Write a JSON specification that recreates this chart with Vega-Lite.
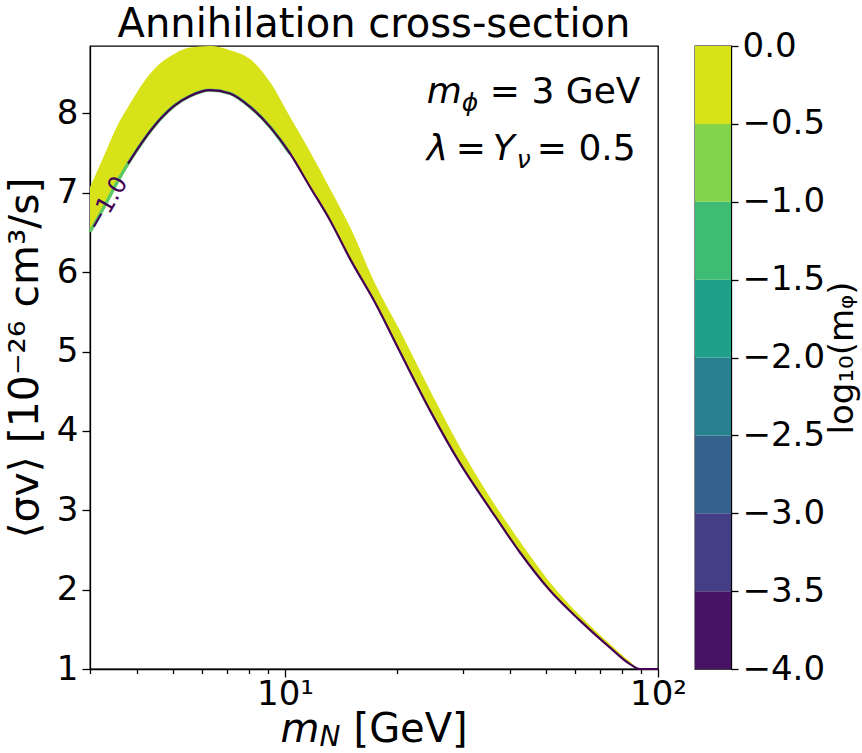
{
  "$schema": "https://vega.github.io/schema/vega-lite/v6.json",
  "background": "white",
  "padding": {"left": 3, "right": 0, "top": 4, "bottom": 0},
  "spacing": 37,
  "bounds": "flush",
  "config": {
    "font": "DejaVu Sans",
    "view": {"stroke": "black", "strokeWidth": 1.3},
    "axis": {"domainColor": "black", "domainWidth": 1.3, "tickColor": "black", "tickWidth": 1.3, "labelColor": "black", "titleColor": "black", "labelFont": "DejaVu Sans", "titleFont": "DejaVu Sans", "titleFontWeight": "normal", "grid": false},
    "title": {"font": "DejaVu Sans", "fontWeight": "normal", "color": "black"}
  },
  "hconcat": [
    {
      "width": 568,
      "height": 623,
      "title": {"text": "Annihilation cross-section", "fontSize": 40, "offset": 1, "anchor": "middle"},
      "data": {"values": [
        {"mN": 3.000, "lo": 6.507, "hi": 7.071},
        {"mN": 3.291, "lo": 6.844, "hi": 7.497},
        {"mN": 3.567, "lo": 7.153, "hi": 7.865},
        {"mN": 3.794, "lo": 7.367, "hi": 8.080},
        {"mN": 4.214, "lo": 7.689, "hi": 8.420},
        {"mN": 4.623, "lo": 7.926, "hi": 8.629},
        {"mN": 5.072, "lo": 8.106, "hi": 8.757},
        {"mN": 5.565, "lo": 8.221, "hi": 8.830},
        {"mN": 6.295, "lo": 8.294, "hi": 8.849},
        {"mN": 7.119, "lo": 8.252, "hi": 8.798},
        {"mN": 8.058, "lo": 8.083, "hi": 8.685},
        {"mN": 9.116, "lo": 7.831, "hi": 8.395},
        {"mN": 10.31, "lo": 7.496, "hi": 7.957},
        {"mN": 11.67, "lo": 7.074, "hi": 7.516},
        {"mN": 13.20, "lo": 6.655, "hi": 7.052},
        {"mN": 14.94, "lo": 6.168, "hi": 6.570},
        {"mN": 17.43, "lo": 5.618, "hi": 5.858},
        {"mN": 20.34, "lo": 4.995, "hi": 5.261},
        {"mN": 24.47, "lo": 4.259, "hi": 4.512},
        {"mN": 29.46, "lo": 3.591, "hi": 3.794},
        {"mN": 35.45, "lo": 3.019, "hi": 3.165},
        {"mN": 42.66, "lo": 2.468, "hi": 2.605},
        {"mN": 51.34, "lo": 1.989, "hi": 2.091},
        {"mN": 61.80, "lo": 1.610, "hi": 1.673},
        {"mN": 74.36, "lo": 1.270, "hi": 1.314},
        {"mN": 84.12, "lo": 1.062, "hi": 1.093},
        {"mN": 89.45, "lo": 1.000, "hi": 1.000},
        {"mN": 100, "lo": 1.000, "hi": 1.000}
      ]},
      "layer": [
        {
          "mark": {"type": "area", "color": "#d8e219", "opacity": 1, "interpolate": "monotone"},
          "encoding": {
            "x": {"field": "mN", "type": "quantitative",
              "scale": {"type": "log", "domain": [3, 100], "nice": false},
              "axis": {"values": [3, 4, 5, 6, 7, 8, 9, 10, 20, 30, 40, 50, 60, 70, 80, 90, 100],
                "labelExpr": "datum.value == 10 ? '10¹' : (datum.value == 100 ? '10²' : '')",
                "labelFontSize": 34, "labelPadding": 0, "labelFlush": false, "labelOverlap": false,
                "tickSize": {"condition": {"test": "datum.value == 10 || datum.value == 100", "value": 8}, "value": 4.5},
                "title": null}},
            "y": {"field": "hi", "type": "quantitative",
              "scale": {"domain": [1, 8.85], "nice": false, "zero": false},
              "axis": {"values": [1, 2, 3, 4, 5, 6, 7, 8], "format": "d", "labelFontSize": 34, "tickSize": 8, "labelPadding": 4,
                "title": "⟨σv⟩ [10⁻²⁶ cm³/s]", "titleFontSize": 41, "titlePadding": 10}},
            "y2": {"field": "lo"}
          }
        },
        {
          "transform": [{"filter": "datum.mN <= 10.4"}],
          "mark": {"type": "line", "color": "#5ec962", "strokeWidth": 3.4, "interpolate": "monotone"},
          "encoding": {"x": {"field": "mN", "type": "quantitative"}, "y": {"field": "lo", "type": "quantitative"}}
        },
        {
          "transform": [{"filter": "datum.mN >= 3.79"}],
          "mark": {"type": "line", "color": "#440154", "strokeWidth": 2.2, "interpolate": "monotone"},
          "encoding": {"x": {"field": "mN", "type": "quantitative"}, "y": {"field": "lo", "type": "quantitative"}}
        },
        {
          "data": {"values": [{"t": "−1.0"}]},
          "mark": {"type": "text", "color": "#440154", "fontSize": 24, "angle": 300, "align": "center", "baseline": "middle"},
          "encoding": {"x": {"datum": 3.34}, "y": {"datum": 6.86}, "text": {"field": "t"}}
        },
        {
          "data": {"values": [{"t": "m"}]},
          "mark": {"type": "text", "fontSize": 36, "fontStyle": "italic", "align": "left", "baseline": "alphabetic"},
          "encoding": {"x": {"datum": 24.0}, "y": {"datum": 8.13}, "text": {"field": "t"}}
        },
        {
          "data": {"values": [{"t": "ϕ"}]},
          "mark": {"type": "text", "fontSize": 25, "fontStyle": "italic", "align": "left", "baseline": "alphabetic", "dx": 35, "dy": 8},
          "encoding": {"x": {"datum": 24.0}, "y": {"datum": 8.13}, "text": {"field": "t"}}
        },
        {
          "data": {"values": [{"t": "= 3 GeV"}]},
          "mark": {"type": "text", "fontSize": 36, "align": "left", "baseline": "alphabetic", "dx": 63},
          "encoding": {"x": {"datum": 24.0}, "y": {"datum": 8.13}, "text": {"field": "t"}}
        },
        {
          "data": {"values": [{"t": "λ"}]},
          "mark": {"type": "text", "fontSize": 36, "fontStyle": "italic", "align": "left", "baseline": "alphabetic"},
          "encoding": {"x": {"datum": 24.0}, "y": {"datum": 7.41}, "text": {"field": "t"}}
        },
        {
          "data": {"values": [{"t": "="}]},
          "mark": {"type": "text", "fontSize": 36, "align": "left", "baseline": "alphabetic", "dx": 29},
          "encoding": {"x": {"datum": 24.0}, "y": {"datum": 7.41}, "text": {"field": "t"}}
        },
        {
          "data": {"values": [{"t": "Y"}]},
          "mark": {"type": "text", "fontSize": 36, "fontStyle": "italic", "align": "left", "baseline": "alphabetic", "dx": 66},
          "encoding": {"x": {"datum": 24.0}, "y": {"datum": 7.41}, "text": {"field": "t"}}
        },
        {
          "data": {"values": [{"t": "ν"}]},
          "mark": {"type": "text", "fontSize": 25, "fontStyle": "italic", "align": "left", "baseline": "alphabetic", "dx": 90, "dy": 8},
          "encoding": {"x": {"datum": 24.0}, "y": {"datum": 7.41}, "text": {"field": "t"}}
        },
        {
          "data": {"values": [{"t": "= 0.5"}]},
          "mark": {"type": "text", "fontSize": 36, "align": "left", "baseline": "alphabetic", "dx": 110},
          "encoding": {"x": {"datum": 24.0}, "y": {"datum": 7.41}, "text": {"field": "t"}}
        },
        {
          "data": {"values": [{"t": "m"}]},
          "mark": {"type": "text", "fontSize": 40, "fontStyle": "italic", "align": "left", "baseline": "alphabetic", "dy": 73},
          "encoding": {"x": {"datum": 9.726}, "y": {"datum": 1}, "text": {"field": "t"}}
        },
        {
          "data": {"values": [{"t": "N"}]},
          "mark": {"type": "text", "fontSize": 28, "fontStyle": "italic", "align": "left", "baseline": "alphabetic", "dx": 39, "dy": 77},
          "encoding": {"x": {"datum": 9.726}, "y": {"datum": 1}, "text": {"field": "t"}}
        },
        {
          "data": {"values": [{"t": "[GeV]"}]},
          "mark": {"type": "text", "fontSize": 40, "align": "left", "baseline": "alphabetic", "dx": 73, "dy": 73},
          "encoding": {"x": {"datum": 9.726}, "y": {"datum": 1}, "text": {"field": "t"}}
        }
      ]
    },
    {
      "width": 36,
      "height": 623,
      "data": {"values": [
        {"lo": -4.0, "hi": -3.5},
        {"lo": -3.5, "hi": -3.0},
        {"lo": -3.0, "hi": -2.5},
        {"lo": -2.5, "hi": -2.0},
        {"lo": -2.0, "hi": -1.5},
        {"lo": -1.5, "hi": -1.0},
        {"lo": -1.0, "hi": -0.5},
        {"lo": -0.5, "hi": 0.0}
      ]},
      "mark": {"type": "rect"},
      "encoding": {
        "y": {"field": "lo", "type": "quantitative",
          "scale": {"domain": [-4, 0], "nice": false, "zero": false},
          "axis": {"orient": "right", "values": [-4, -3.5, -3, -2.5, -2, -1.5, -1, -0.5, 0],
            "labelExpr": "replace(format(datum.value, '.1f'), '-', '−')",
            "labelFontSize": 34, "tickSize": 7, "labelPadding": 4, "labelFlush": false, "labelOverlap": false,
            "title": "log₁₀(mᵩ)", "titleFontSize": 34, "titleAngle": 270, "titleBaseline": "top", "titlePadding": 1}},
        "y2": {"field": "hi"},
        "color": {"field": "lo", "type": "ordinal",
          "scale": {"domain": [-4, -3.5, -3, -2.5, -2, -1.5, -1, -0.5],
            "range": ["#471365", "#433e85", "#33638d", "#27808e", "#1fa088", "#3fbc73", "#84d44b", "#d8e219"]},
          "legend": null}
      }
    }
  ]
}
